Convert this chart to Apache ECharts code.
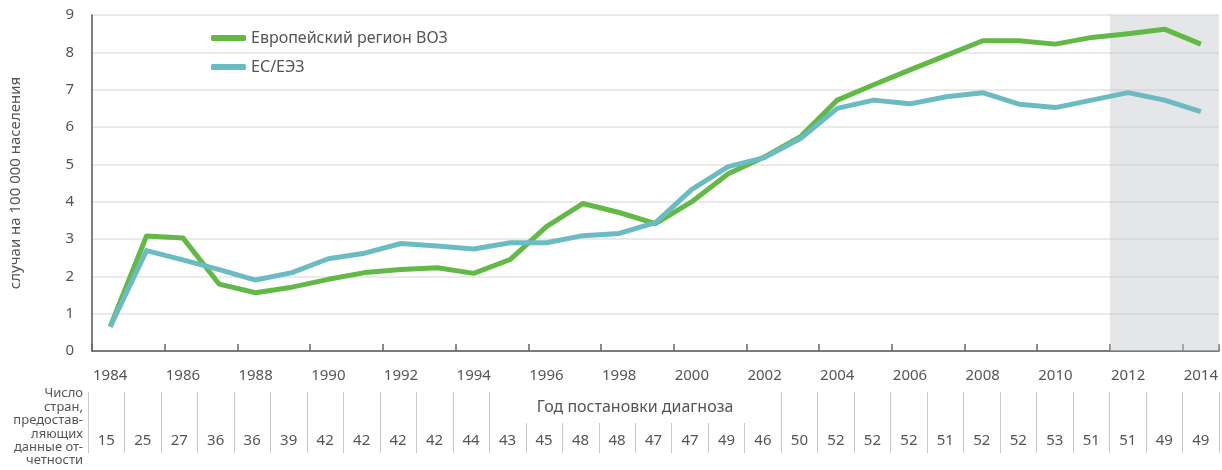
<!DOCTYPE html>
<html>
<head>
<meta charset="utf-8">
<script src="https://cdn.jsdelivr.net/npm/echarts@6/dist/echarts.min.js"></script>
<style>
  html, body { margin: 0; padding: 0; background: #fff; }
  #chart { width: 1222px; height: 470px; }
</style>
</head>
<body>
<div id="chart"></div>
<script>
// годы постановки диагноза
var years = ['1984', '1985', '1986', '1987', '1988', '1989', '1990', '1991', '1992', '1993',
  '1994', '1995', '1996', '1997', '1998', '1999', '2000', '2001', '2002', '2003',
  '2004', '2005', '2006', '2007', '2008', '2009', '2010', '2011', '2012', '2013', '2014']

// случаи на 100 000 населения
var euroRegion = [0.65, 3.08, 3.03, 1.79, 1.56, 1.71, 1.92, 2.1, 2.18, 2.23,
  2.08, 2.45, 3.33, 3.95, 3.71, 3.41, 4.0, 4.75, 5.2, 5.75,
  6.72, 7.13, 7.53, 7.92, 8.31, 8.31, 8.22, 8.4, 8.5, 8.62, 8.22]
var euEea = [0.65, 2.69, 2.44, 2.18, 1.9, 2.1, 2.47, 2.62, 2.88, 2.81,
  2.73, 2.9, 2.9, 3.09, 3.15, 3.44, 4.33, 4.94, 5.18, 5.7,
  6.5, 6.72, 6.62, 6.81, 6.92, 6.61, 6.52, 6.72, 6.92, 6.72, 6.41]

// число стран, предоставляющих данные отчетности
var countries = [15, 25, 27, 36, 36, 39, 42, 42, 42, 42, 44, 43, 45, 48, 48, 47, 47, 49, 46, 50,
  52, 52, 52, 51, 52, 52, 53, 51, 51, 49, 49]

var seriesNames = ['Европейский регион ВОЗ', 'ЕС/ЕЭЗ']
var shadedFrom = '2012' // неполные данные

var textColor = '#555'
var font = 'Noto Sans'

var chart = echarts.init(document.getElementById('chart'))
var shadeStart = years.indexOf(shadedFrom)

chart.setOption({
  animation: false,
  textStyle: { fontFamily: font },
  grid: [
    { left: 88, right: 3, top: 15, bottom: 119 },
    { left: 88, right: 3, top: 392, bottom: 17 }
  ],
  legend: {
    orient: 'vertical',
    left: 206,
    top: 25,
    itemGap: 13,
    itemWidth: 35,
    itemHeight: 6,
    icon: 'roundRect',
    textStyle: { color: textColor, fontSize: 16, fontFamily: font },
    data: seriesNames
  },
  xAxis: [
    {
      type: 'category',
      gridIndex: 0,
      data: years,
      axisLine: { lineStyle: { color: '#555', width: 1.5 } },
      axisTick: { show: true, inside: true, length: 7, lineStyle: { color: '#666', width: 1.5 } },
      axisLabel: { interval: 1, margin: 17, fontSize: 15, color: textColor }
    },
    {
      // вспомогательная ось для серой области по границам годов
      type: 'value',
      gridIndex: 0,
      min: 0,
      max: years.length,
      show: false
    },
    {
      type: 'category',
      gridIndex: 1,
      data: years,
      axisLine: { show: false },
      axisTick: { show: false },
      axisLabel: {
        inside: true,
        interval: 0,
        margin: 5,
        fontSize: 15,
        color: textColor,
        formatter: function (v, i) { return String(countries[i]) }
      },
      splitLine: { show: true, interval: 0, lineStyle: { color: '#c9c9c9', width: 1 } }
    }
  ],
  yAxis: [
    {
      type: 'value',
      gridIndex: 0,
      min: 0,
      max: 9,
      interval: 1,
      name: 'случаи на 100 000 населения',
      nameLocation: 'middle',
      nameGap: 69,
      nameTextStyle: { color: textColor, fontSize: 15 },
      axisLine: { show: true, lineStyle: { color: '#555', width: 1.5 } },
      axisTick: { show: false },
      axisLabel: { margin: 18, fontSize: 15, color: textColor },
      splitLine: { lineStyle: { color: '#e3e3e3', width: 1.5 } }
    },
    { type: 'value', gridIndex: 1, show: false }
  ],
  graphic: [
    {
      type: 'text',
      x: 83,
      y: 387,
      style: {
        text: 'Число\nстран,\nпредостав-\nляющих\nданные от-\nчетности',
        fill: textColor,
        font: '13px "Noto Sans"',
        lineHeight: 13.4,
        align: 'right',
        verticalAlign: 'top'
      }
    },
    {
      type: 'text',
      x: 635,
      y: 392,
      z: 100,
      style: {
        text: 'Год постановки диагноза',
        fill: textColor,
        font: '16px "Noto Sans"',
        align: 'center',
        verticalAlign: 'top',
        backgroundColor: '#fff',
        padding: [7, 36, 8, 36]
      }
    }
  ],
  series: [
    {
      type: 'line',
      xAxisIndex: 1,
      yAxisIndex: 0,
      data: [],
      silent: true,
      markArea: {
        silent: true,
        itemStyle: { color: 'rgba(196,199,204,0.45)' },
        data: [[{ xAxis: shadeStart }, { xAxis: years.length }]]
      }
    },
    {
      name: seriesNames[0],
      type: 'line',
      xAxisIndex: 0,
      yAxisIndex: 0,
      data: euroRegion,
      showSymbol: false,
      color: '#62b946',
      lineStyle: { width: 5, join: 'round' }
    },
    {
      name: seriesNames[1],
      type: 'line',
      xAxisIndex: 0,
      yAxisIndex: 0,
      data: euEea,
      showSymbol: false,
      color: '#6bbcc2',
      lineStyle: { width: 5, join: 'round' }
    }
  ]
})
</script>
</body>
</html>
